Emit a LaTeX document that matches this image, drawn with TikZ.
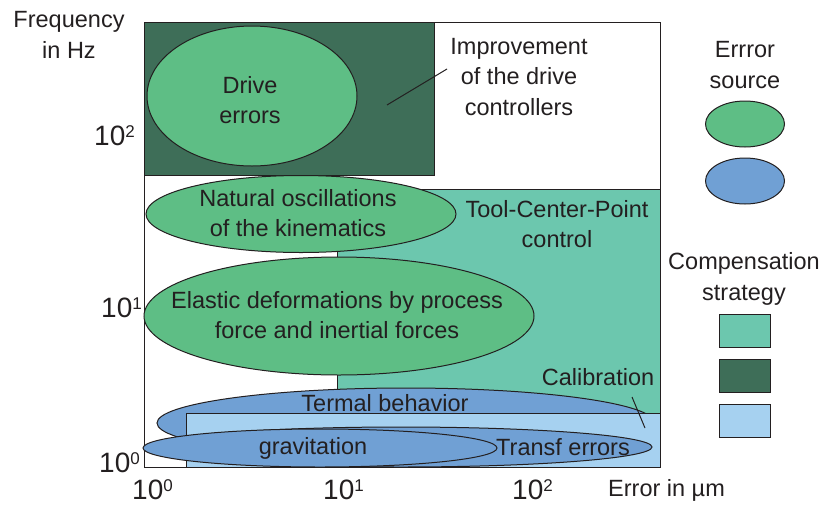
\documentclass[tikz,border=0pt]{standalone}
\usepackage{fontspec}
\setmainfont{Liberation Sans}
\usetikzlibrary{shapes.geometric,positioning}

\definecolor{inkgray}{HTML}{231F20}
\definecolor{errgreen}{HTML}{5EBE85}
\definecolor{errblue}{HTML}{70A0D4}
\definecolor{drivedark}{HTML}{3E6E58}
\definecolor{tcpteal}{HTML}{6CC7AE}
\definecolor{calblue}{HTML}{A6D1F0}

\newcommand\tenpow[1]{10\raisebox{8pt}{\fontsize{17}{17}\selectfont #1}}

\begin{document}
\begin{tikzpicture}[x=1pt, y=-1pt, font=\fontsize{23.5}{30.5}\selectfont, color=inkgray,
  zone/.style = {draw, line width=1pt},
  src/.style = {draw, ellipse, line width=1pt, inner sep=0pt},
  box/.style = {draw, rectangle, line width=1pt, inner sep=0pt},
  txt/.style = {align=center, inner sep=0pt},
  tick/.style = {inner sep=0pt, font=\fontsize{28}{30}\selectfont}]
\useasboundingbox (0,0) rectangle (822,504);

% plot area and compensation zones
\draw[zone, fill=white] (144,22) rectangle (660,467);
\draw[zone, fill=drivedark] (144,22) rectangle (434,175);
\draw[zone, fill=tcpteal] (337,189) rectangle (660,413);

% error sources
\node[src, fill=errgreen, minimum width=310, minimum height=77] (natural) at (301,214) {};
\node[txt] (naturaltxt) at (298,213) {Natural oscillations\\of the kinematics};
\node[src, fill=errgreen, minimum width=390, minimum height=118] (elastic) at (339,316) {};
\node[txt] (elastictxt) at (337,315) {Elastic deformations by process\\force and inertial forces};
\node[src, fill=errgreen, minimum width=210, minimum height=140] (drive) at (252,96) {};
\node[txt] (drivetxt) at (250,100) {Drive\\errors};
\node[src, fill=errblue, minimum width=498, minimum height=70] (termal) at (406,423) {};
\node[txt] (termaltxt) at (385,403) {Termal behavior};
\draw[zone, fill=calblue] (186,413) rectangle (660,467);
\node[src, fill=errblue, minimum width=502, minimum height=40] (transf) at (401,447) {};
\node[txt] (transftxt) at (563,447) {Transf errors};
\node[src, fill=errblue, minimum width=354, minimum height=38] (gravit) at (320,448) {};
\node[txt] (gravittxt) at (313,448) {gravitation};

% strategy labels
\node[txt] (improv) at (519,77) {Improvement\\of the drive\\controllers};
\node[txt] (tcp) at (557,224) {Tool-Center-Point\\control};
\node[txt] (calib) at (598,377) {Calibration};
\coordinate (impfoot) at (387,105);
\coordinate (imphead) at (447,69);
\coordinate (calhead) at (632,397);
\coordinate (calfoot) at (645,428);
\draw[line width=1pt] (impfoot) -- (imphead);
\draw[line width=1pt] (calhead) -- (calfoot);

% axes
\node[txt] (ylabel) at (69,35) {Frequency\\in Hz};
\node[tick, anchor=base east] (y2) at (135,145) {\tenpow{2}};
\node[tick, anchor=base east] (y1) at (142,317) {\tenpow{1}};
\node[tick, anchor=base east] (y0) at (140,472) {\tenpow{0}};
\node[tick, anchor=base west] (x0) at (132,499) {\tenpow{0}};
\node[tick, anchor=base west] (x1) at (323,499) {\tenpow{1}};
\node[tick, anchor=base west] (x2) at (512,499) {\tenpow{2}};
\node[txt, anchor=west] (xlabel) at (608,490) {Error in µm};

% legend
\node[txt] (srctitle) at (745,65) {Errror\\source};
\node[src, fill=errgreen, minimum width=79, minimum height=46] (lggreen) at (745,124) {};
\node[src, fill=errblue, minimum width=79, minimum height=46] (lgblue) [below=10pt of lggreen] {};
\node[txt] (comptitle) at (744,279) {Compensation\\strategy};
\node[box, fill=tcpteal, minimum width=51, minimum height=33] (lgtcp) at (744.5,330.5) {};
\node[box, fill=drivedark, minimum width=51, minimum height=33] (lgdrive) [below=11pt of lgtcp] {};
\node[box, fill=calblue, minimum width=51, minimum height=33] (lgcal) [below=11pt of lgdrive] {};
\end{tikzpicture}
\end{document}
